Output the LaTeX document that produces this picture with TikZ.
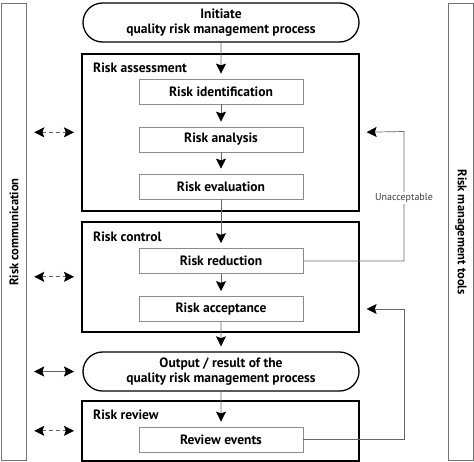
\documentclass[tikz,border=0pt]{standalone}
\usepackage{fontspec}
\setmainfont{PT Sans}
\usetikzlibrary{arrows.meta,shapes.misc}
\begin{document}
\begin{tikzpicture}[x=1pt,y=-1pt,
  tip/.tip={Stealth[length=10pt,width=10pt,inset=1.8pt,color=black]},
  outer/.style={draw=black,line width=1.6pt,minimum width=277pt,anchor=north west,inner sep=0pt},
  inner/.style={draw=black!45,line width=0.8pt,minimum width=164pt,minimum height=25pt,font=\bfseries\fontsize{13.5}{15}\selectfont,inner sep=0pt},
  pill/.style={rounded rectangle,draw=black,line width=1.3pt,minimum width=276pt,minimum height=39pt,align=center,inner sep=0pt,font=\bfseries\fontsize{13.5}{15}\selectfont},
  bar/.style={draw=black!55,line width=1.2pt,minimum width=25pt,minimum height=457pt,inner sep=0pt,anchor=north west},
  sect/.style={anchor=west,font=\bfseries\fontsize{13.5}{15}\selectfont,inner sep=0pt},
  flow/.style={draw=black!60,line width=0.7pt,-tip,shorten >=5pt},
  comm/.style={draw=black!60,line width=0.7pt,tip-tip,shorten >=7pt},
  fb/.style={draw=black!60,line width=0.7pt,-tip,shorten >=7pt}]
\useasboundingbox (0,0) rectangle (474,461);

% side bars
\node[bar] (lb) at (1,3) {};
\node[rotate=90,font=\bfseries\fontsize{12.5}{14}\selectfont] at (lb.center) {Risk communication};
\node[bar] (rb) at (448,3) {};
\node[rotate=-90,font=\bfseries\fontsize{12.5}{14}\selectfont] at (rb.center) {Risk management tools};

% outer boxes
\node[outer,minimum height=157pt] (ra) at (81,53) {};
\node[outer,minimum height=110pt] (rc) at (81,221) {};
\node[outer,minimum height=60pt] (rr) at (81,400) {};
\node[sect] (ral) at (93,68) {Risk assessment};
\node[sect] (rcl) at (93,237) {Risk control};
\node[sect] (rrl) at (93,415) {Risk review};

% pills
\node[pill] (init) at (221,22.5) {Initiate\\quality risk management process};
\node[pill] (out) at (221,371.5) {Output / result of the\\quality risk management process};

% inner boxes
\node[inner] (rid) at (221,91.5) {Risk identification};
\node[inner] (ran) at (221,139.5) {Risk analysis};
\node[inner] (rev) at (221,186.5) {Risk evaluation};
\node[inner] (rred) at (221,261) {Risk reduction};
\node[inner] (racc) at (221,309) {Risk acceptance};
\node[inner] (revt) at (221,439.5) {Review events};

% main flow
\draw[flow] (init) -- (rid);
\draw[flow] (rid) -- (ran);
\draw[flow] (ran) -- (rev);
\draw[flow] (rev) -- (rred);
\draw[flow] (rred) -- (racc);
\draw[flow] (racc) -- (out);
\draw[flow] (out) -- (revt);

% feedback loops
\coordinate (k1) at (404,131.5);
\coordinate (k2) at (404,309);
\draw[fb] (rred.east) -| (k1) -- (ra.east);
\draw[fb] (revt.east) -| (k2) -- (rc.east |- k2);
\node[fill=white,inner sep=1.5pt,text=black!75,font=\fontsize{10}{12}\selectfont] (unacc) at (404,198) {Unacceptable};

% communication arrows
\draw[comm,dashed,dash pattern=on 4pt off 3pt,shorten <=7pt] (lb.east |- ra.east) -- (ra.east -| ra.west);
\draw[comm,dashed,dash pattern=on 4pt off 3pt,shorten <=7pt] (lb.east |- rc.east) -- (rc.west);
\draw[comm,shorten <=7pt] (lb.east |- out.center) -- (out.center -| ra.west);
\draw[comm,dashed,dash pattern=on 4pt off 3pt,shorten <=7pt] (lb.east |- rr.east) -- (rr.west);
\end{tikzpicture}
\end{document}
